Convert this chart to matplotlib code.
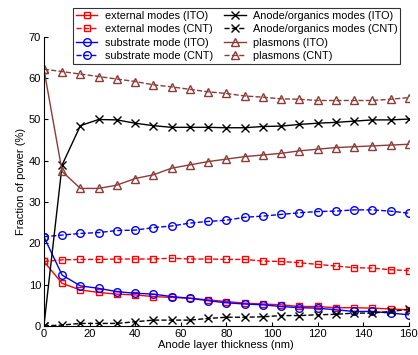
import numpy as np
import matplotlib
matplotlib.use('Agg')
import matplotlib.pyplot as plt

# Anode layer thickness (nm), sampled every 8 nm
thickness = np.arange(0, 161, 8)

external_ito = [15.6, 10.3, 8.7, 8.1, 7.7, 7.5, 7.1, 6.9, 6.7, 6.3, 5.9,
                5.5, 5.3, 5.1, 4.7, 4.7, 4.4, 4.4, 4.3, 4.1, 3.9]
external_cnt = [15.6, 16.0, 16.1, 16.1, 16.2, 16.2, 16.2, 16.4, 16.2, 16.2, 16.1,
                16.1, 15.7, 15.6, 15.3, 14.9, 14.5, 14.1, 14.0, 13.6, 13.4]
substrate_ito = [21.6, 12.3, 9.7, 9.1, 8.3, 7.9, 7.7, 7.1, 6.7, 6.1, 5.6,
                 5.3, 5.1, 4.7, 4.4, 4.3, 3.9, 3.5, 3.5, 3.1, 2.7]
substrate_cnt = [21.6, 22.0, 22.4, 22.6, 23.1, 23.2, 23.8, 24.2, 24.9, 25.3, 25.6,
                 26.3, 26.6, 27.0, 27.4, 27.7, 27.8, 28.1, 28.1, 27.8, 27.3]
anode_ito = [0.0, 39.0, 48.5, 50.0, 49.9, 49.1, 48.5, 48.1, 48.1, 48.1, 48.0,
             48.0, 48.3, 48.4, 48.8, 49.1, 49.3, 49.6, 49.9, 49.9, 50.1]
anode_cnt = [0.0, 0.2, 0.6, 0.6, 0.6, 1.0, 1.4, 1.4, 1.4, 1.8, 2.1,
             2.1, 2.2, 2.5, 2.5, 2.7, 2.8, 3.1, 3.1, 3.5, 4.0]
plasmons_ito = [62.2, 37.4, 33.3, 33.3, 34.1, 35.7, 36.6, 38.2, 39.0, 39.8, 40.4,
                41.0, 41.4, 41.8, 42.4, 42.8, 43.2, 43.4, 43.6, 43.8, 44.0]
plasmons_cnt = [62.2, 61.6, 61.0, 60.4, 59.8, 59.2, 58.4, 57.9, 57.3, 56.7, 56.3,
                55.7, 55.4, 55.0, 54.9, 54.6, 54.6, 54.6, 54.6, 54.9, 55.3]

brown = '#8c3a3a'

plt.rcParams['font.family'] = ['Liberation Sans', 'DejaVu Sans']
plt.rcParams['font.size'] = 8

fig = plt.figure(figsize=(4.18, 3.55), dpi=100)
ax = fig.add_axes([0.105, 0.082, 0.873, 0.814])

common = dict(markerfacecolor='none', linewidth=1.0, markeredgewidth=1.0)
ax.plot(thickness, external_ito, 'r-', marker='s', markersize=5, label='external modes (ITO)', **common)
ax.plot(thickness, external_cnt, 'r--', marker='s', markersize=5, label='external modes (CNT)', **common)
ax.plot(thickness, substrate_ito, 'b-', marker='o', markersize=5.5, label='substrate mode (ITO)', **common)
ax.plot(thickness, substrate_cnt, 'b--', marker='o', markersize=5.5, label='substrate mode (CNT)', **common)
ax.plot(thickness, anode_ito, 'k-', marker='x', markersize=6, label='Anode/organics modes (ITO)', **common)
ax.plot(thickness, anode_cnt, 'k--', marker='x', markersize=6, label='Anode/organics modes (CNT)', **common)
ax.plot(thickness, plasmons_ito, '-', color=brown, marker='^', markersize=6, label='plasmons (ITO)', **common)
ax.plot(thickness, plasmons_cnt, '--', color=brown, marker='^', markersize=6, label='plasmons (CNT)', **common)

ax.set_xlim(0, 160)
ax.set_ylim(0, 70)
ax.set_xticks(range(0, 161, 20))
ax.set_yticks(range(0, 71, 10))
ax.tick_params(direction='in', length=3, width=0.8, pad=2)
for side in ('top', 'right'):
    ax.spines[side].set_visible(False)
ax.set_xlabel('Anode layer thickness (nm)', labelpad=1)
ax.set_ylabel('Fraction of power (%)', labelpad=2)

leg = ax.legend(ncol=2, loc='upper left', bbox_to_anchor=(73 / 418, 1 - 8 / 355),
                bbox_transform=fig.transFigure, frameon=True, fancybox=False,
                edgecolor='black', borderpad=0.25, labelspacing=0.32,
                handlelength=2.0, handletextpad=0.7, columnspacing=1.0,
                borderaxespad=0, fontsize=7.8)
leg.get_frame().set_linewidth(0.8)
leg.set_zorder(5)

fig.savefig('out.png', dpi=100)
